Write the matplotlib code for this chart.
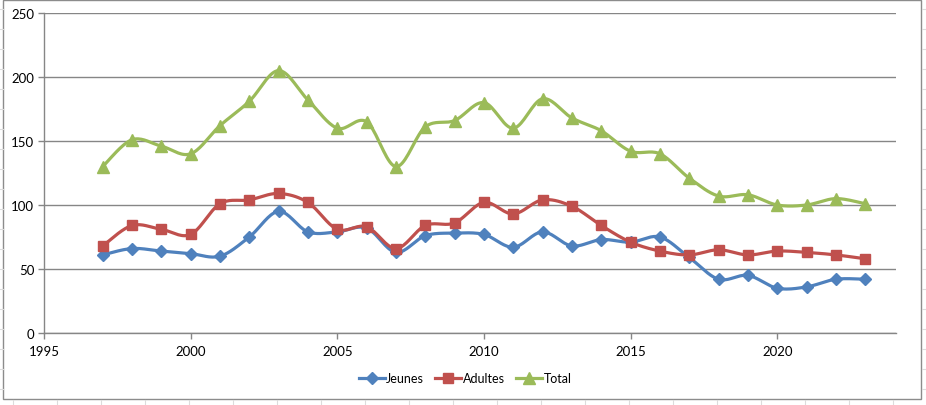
import numpy as np
import matplotlib
matplotlib.use('Agg')
import matplotlib.pyplot as plt
from matplotlib.lines import Line2D
from matplotlib.patches import Rectangle

years = list(range(1997, 2024))
jeunes = [61, 66, 64, 62, 60, 75, 95, 79, 79, 82, 63, 76, 78, 77, 67, 79, 68, 73, 71, 75, 59, 42, 45, 35, 36, 42, 42]
adultes = [68, 84, 81, 77, 101, 104, 109, 102, 81, 83, 66, 84, 86, 102, 93, 104, 99, 84, 71, 64, 61, 65, 61, 64, 63, 61, 58]
total = [130, 151, 146, 140, 162, 181, 205, 182, 160, 165, 130, 161, 166, 180, 160, 183, 168, 158, 142, 140, 121, 107, 108, 100, 100, 105, 101]

series = [('Jeunes', jeunes, '#4F81BD', 'D', 6.5),
          ('Adultes', adultes, '#C0504D', 's', 7.5),
          ('Total', total, '#9BBB59', '^', 8)]


def smooth(x, y, n=20):
    # catmull-rom like excel "smoothed line"
    x = np.asarray(x, float)
    y = np.asarray(y, float)
    px = np.concatenate([[x[0]], x, [x[-1]]])
    py = np.concatenate([[y[0]], y, [y[-1]]])
    xs, ys = [], []
    t = np.linspace(0, 1, n)
    for i in range(1, len(px) - 2):
        p0, p1, p2, p3 = (np.array([px[i + k], py[i + k]]) for k in (-1, 0, 1, 2))
        c1 = p1 + (p2 - p0) / 6
        c2 = p2 - (p3 - p1) / 6
        b = ((1 - t) ** 3)[:, None] * p1 + (3 * (1 - t) ** 2 * t)[:, None] * c1 \
            + (3 * (1 - t) * t ** 2)[:, None] * c2 + (t ** 3)[:, None] * p2
        xs.extend(b[:, 0])
        ys.extend(b[:, 1])
    return xs, ys


fig = plt.figure(figsize=(9.26, 4.06), dpi=100)
plt.rcParams['font.family'] = ['Lato', 'DejaVu Sans']

# chart frame + faint sheet cells
fig.add_artist(Rectangle((3 / 926, 1 - 400 / 406), 918 / 926, 399 / 406, transform=fig.transFigure,
                         fill=False, edgecolor='#8c8c8c', lw=1.0))
for xc in np.arange(13, 926, 44):
    fig.add_artist(Line2D([xc / 926, xc / 926], [0, 5 / 406], transform=fig.transFigure, color='#dcdcdc', lw=0.8))
for yc in np.arange(10, 400, 20):
    fig.add_artist(Line2D([921.5 / 926, 1], [1 - yc / 406, 1 - yc / 406], transform=fig.transFigure, color='#dcdcdc', lw=0.8))
    fig.add_artist(Line2D([0, 2.5 / 926], [1 - yc / 406, 1 - yc / 406], transform=fig.transFigure, color='#dcdcdc', lw=0.8))

ax = fig.add_axes([44 / 926, 1 - 334 / 406, (896 - 44) / 926, (334 - 14) / 406])
gc = '#868686'
handles = []
for name, vals, col, mk, ms in series:
    sx, sy = smooth(years, vals)
    ax.plot(sx, sy, color=col, lw=2.3, solid_capstyle='round', zorder=3)
    ax.plot(years, vals, ls='none', marker=mk, color=col, ms=ms, zorder=4)
    handles.append(Line2D([], [], color=col, lw=2.3, marker=mk, ms=ms, label=name))

ax.set_xlim(1995, 2024.05)
ax.set_ylim(0, 250)
ax.set_xticks(range(1995, 2025, 5))
ax.set_yticks(range(0, 251, 50))
ax.yaxis.grid(True, color=gc, lw=1.0)
ax.set_axisbelow(True)
for s in ['top', 'right']:
    ax.spines[s].set_visible(False)
for s in ['left', 'bottom']:
    ax.spines[s].set_color(gc)
    ax.spines[s].set_linewidth(1.0)
ax.tick_params(axis='both', colors=gc, labelcolor='black', labelsize=9.5, length=4, width=1.0, direction='out')
ax.tick_params(axis='y', pad=3)
ax.tick_params(axis='x', pad=5)

fig.legend(handles=handles, loc='center', bbox_to_anchor=(465 / 926, 1 - 379 / 406), ncol=3,
           frameon=False, fontsize=9, handlelength=2.1, handletextpad=0.1, columnspacing=0.9)

fig.savefig('out.png', dpi=100, facecolor='white')
